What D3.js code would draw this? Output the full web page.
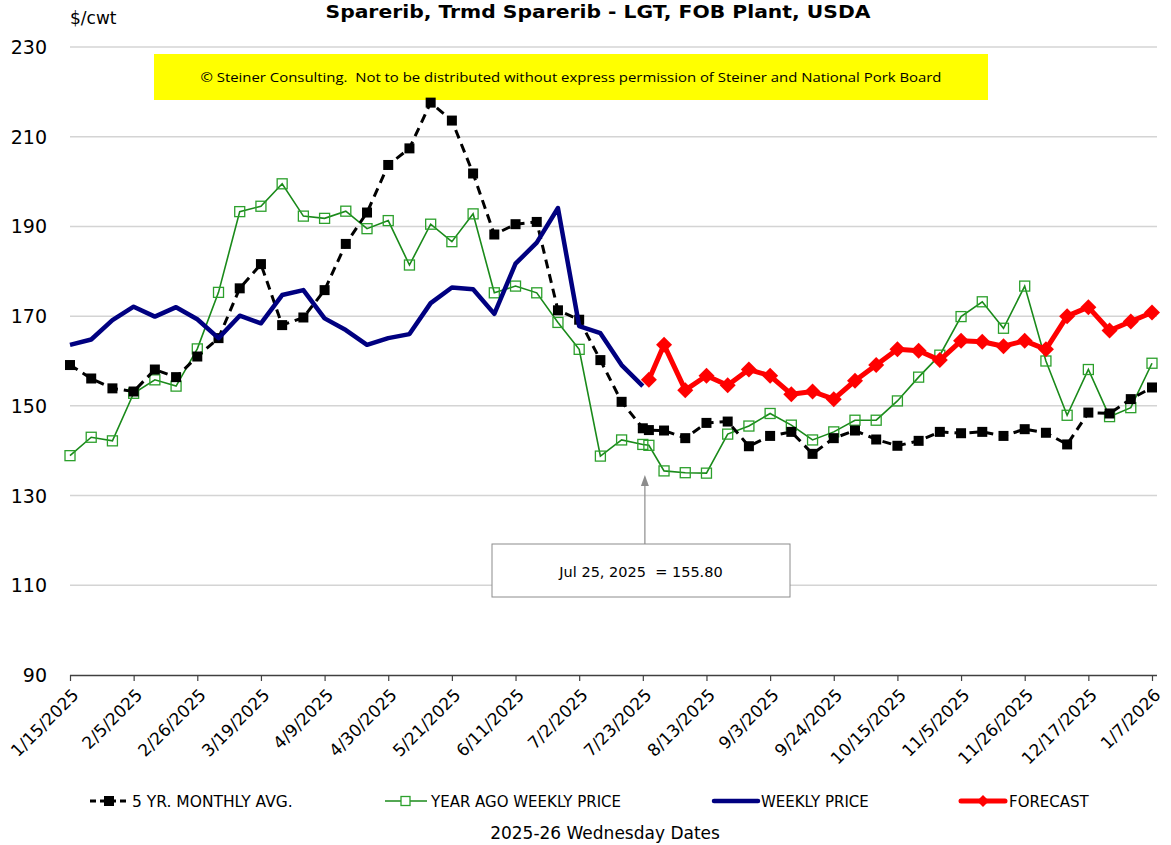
<!DOCTYPE html>
<html><head><meta charset="utf-8">
<script src="https://cdn.jsdelivr.net/npm/d3@7"></script>
<style>
html,body{margin:0;padding:0;background:#fff;}
svg{display:block;}
</style></head>
<body>
<svg id="chart" width="1171" height="845"></svg>
<script>
// ---------- DATA ----------
const dates = ["2025-01-15","2025-01-22","2025-01-29","2025-02-05","2025-02-12","2025-02-19","2025-02-26",
"2025-03-05","2025-03-12","2025-03-19","2025-03-26","2025-04-02","2025-04-09","2025-04-16","2025-04-23",
"2025-04-30","2025-05-07","2025-05-14","2025-05-21","2025-05-28","2025-06-04","2025-06-11","2025-06-18",
"2025-06-25","2025-07-02","2025-07-09","2025-07-16","2025-07-23","2025-07-25","2025-07-30","2025-08-06",
"2025-08-13","2025-08-20","2025-08-27","2025-09-03","2025-09-10","2025-09-17","2025-09-24","2025-10-01",
"2025-10-08","2025-10-15","2025-10-22","2025-10-29","2025-11-05","2025-11-12","2025-11-19","2025-11-26",
"2025-12-03","2025-12-10","2025-12-17","2025-12-24","2025-12-31","2026-01-07"];

const fiveYrAvg = [159.1,156.1,153.9,153.2,158.1,156.4,161.0,165.1,176.2,181.6,168.0,169.7,175.8,186.1,193.1,
203.7,207.4,217.6,213.6,201.8,188.2,190.5,191.0,171.3,169.2,160.2,150.9,145.0,144.6,144.5,142.8,
146.2,146.5,141.0,143.3,144.2,139.3,142.8,144.5,142.5,141.1,142.2,144.2,143.9,144.2,143.3,144.8,
144.0,141.4,148.5,148.3,151.5,154.1];

const yearAgo = [138.9,143.0,142.2,152.8,155.8,154.4,162.7,175.3,193.3,194.5,199.5,192.3,191.8,193.4,189.5,
191.3,181.4,190.5,186.6,192.8,175.2,176.7,175.2,168.6,162.6,138.8,142.4,141.4,141.2,135.5,135.1,
135.0,143.7,145.5,148.3,145.7,142.4,144.2,146.8,146.8,151.1,156.4,161.3,169.9,173.2,167.3,176.7,
160.0,147.9,158.1,147.6,149.6,159.5];

const weeklyPrice = [163.6,164.8,169.1,172.1,169.9,172.0,169.3,165.1,170.1,168.4,174.7,175.8,169.5,166.9,163.6,
165.1,166.0,172.9,176.4,176.0,170.5,181.7,186.4,194.1,167.8,166.2,159.1,154.4,null,null,null,
null,null,null,null,null,null,null,null,null,null,null,null,null,null,null,null,
null,null,null,null,null,null];

const forecast = [null,null,null,null,null,null,null,null,null,null,null,null,null,null,null,
null,null,null,null,null,null,null,null,null,null,null,null,null,155.8,163.6,153.5,
156.7,154.6,158.1,156.7,152.6,153.2,151.5,155.6,159.1,162.6,162.3,160.2,164.5,164.3,163.3,164.5,
162.6,170.0,172.0,166.8,168.8,170.8];

const xTickLabels = ["1/15/2025","2/5/2025","2/26/2025","3/19/2025","4/9/2025","4/30/2025","5/21/2025",
"6/11/2025","7/2/2025","7/23/2025","8/13/2025","9/3/2025","9/24/2025","10/15/2025","11/5/2025",
"11/26/2025","12/17/2025","1/7/2026"];
const yTicks = [90,110,130,150,170,190,210,230];

const seriesNames = ["5 YR. MONTHLY AVG.","YEAR AGO WEEKLY PRICE","WEEKLY PRICE","FORECAST"];
const titleText = "Sparerib, Trmd Sparerib - LGT, FOB Plant, USDA";
const copyrightText = "\u00A9 Steiner Consulting.  Not to be distributed without express permission of Steiner and National Pork Board";
const annotationText = "Jul 25, 2025  = 155.80";
const annotationDate = "2025-07-25";

// ---------- SETUP ----------
const svg = d3.select("#chart");
const parse = d3.utcParse("%Y-%m-%d");
const parseMDY = d3.utcParse("%m/%d/%Y");
const D = dates.map(parse);

const x = d3.scaleUtc().domain([parse("2025-01-15"), parse("2026-01-07")]).range([70, 1152]);
const y = d3.scaleLinear().domain([90, 230]).range([675, 47]);

const font = "'DejaVu Sans', Verdana, sans-serif";

// gridlines
svg.append("g").selectAll("line").data(yTicks.filter(t => t > 90)).join("line")
  .attr("x1", 70).attr("x2", 1157)
  .attr("y1", d => y(d)).attr("y2", d => y(d))
  .attr("stroke", "#d4d4d4").attr("stroke-width", 1.5);

// y axis labels
svg.append("g").selectAll("text").data(yTicks).join("text")
  .attr("x", 47).attr("y", d => y(d) + 7)
  .attr("text-anchor", "end")
  .attr("font-family", font).attr("font-size", 19).attr("fill", "#000")
  .text(d => d);

// x axis
const tickDates = xTickLabels.map(parseMDY);
const xAxis = d3.axisBottom(x).tickValues(tickDates).tickSize(6).tickFormat((d, i) => xTickLabels[i]);
const gx = svg.append("g").attr("transform", "translate(0,675)").call(xAxis);
gx.select(".domain").attr("stroke", "#404040").attr("stroke-width", 1.5).attr("d", "M70,0.5H1157");
gx.selectAll(".tick line").attr("stroke", "#404040").attr("stroke-width", 1.2);
gx.selectAll(".tick text")
  .attr("font-family", font).attr("font-size", 17).attr("fill", "#000")
  .attr("text-anchor", "end")
  .attr("transform", "translate(5,17) rotate(-45)")
  .attr("dx", 0).attr("dy", "0.35em").attr("y", 0).attr("x", 0);

// yellow copyright box
svg.append("rect").attr("x", 154).attr("y", 54).attr("width", 834).attr("height", 46).attr("fill", "#ffff00");
svg.append("text").attr("x", 571).attr("y", 82).attr("text-anchor", "middle")
  .attr("font-family", "'Open Sans', 'Noto Sans', sans-serif").attr("font-size", 13.5).attr("fill", "#000")
  .attr("textLength", 741).attr("lengthAdjust", "spacingAndGlyphs")
  .style("white-space", "pre").text(copyrightText);

// title and unit
svg.append("text").attr("x", 598).attr("y", 18).attr("text-anchor", "middle")
  .attr("font-family", font).attr("font-weight", "bold").attr("font-size", 18)
  .attr("textLength", 545).attr("lengthAdjust", "spacingAndGlyphs")
  .text(titleText);
svg.append("text").attr("x", 70).attr("y", 24)
  .attr("font-family", font).attr("font-size", 17).text("$/cwt");

// ---------- SERIES ----------
const line = arr => d3.line().defined((d, i) => arr[i] != null)
  .x((d, i) => x(D[i])).y((d, i) => y(arr[i]))(arr);

function pts(arr) { return arr.map((v, i) => ({ v, d: D[i] })).filter(p => p.v != null); }

// year ago (green)
svg.append("path").attr("d", line(yearAgo)).attr("fill", "none")
  .attr("stroke", "#1a8a1a").attr("stroke-width", 1.6);
svg.append("g").selectAll("rect").data(pts(yearAgo)).join("rect")
  .attr("x", p => x(p.d) - 5).attr("y", p => y(p.v) - 5).attr("width", 10).attr("height", 10)
  .attr("fill", "none").attr("stroke", "#2ca02c").attr("stroke-width", 1.3);

// 5 yr avg (black dashed)
svg.append("path").attr("d", line(fiveYrAvg)).attr("fill", "none")
  .attr("stroke", "#000").attr("stroke-width", 3).attr("stroke-dasharray", "9,6");
svg.append("g").selectAll("rect").data(pts(fiveYrAvg)).join("rect")
  .attr("x", p => x(p.d) - 5).attr("y", p => y(p.v) - 5).attr("width", 10).attr("height", 10)
  .attr("fill", "#000");

// weekly price (navy)
svg.append("path").attr("d", line(weeklyPrice)).attr("fill", "none")
  .attr("stroke", "#000080").attr("stroke-width", 4.5).attr("stroke-linejoin", "round");

// forecast (red)
svg.append("path").attr("d", line(forecast)).attr("fill", "none")
  .attr("stroke", "#ff0000").attr("stroke-width", 5).attr("stroke-linejoin", "round");
svg.append("g").selectAll("path").data(pts(forecast)).join("path")
  .attr("d", p => { const cx = x(p.d), cy = y(p.v), r = 8; return `M${cx},${cy - r}L${cx + r},${cy}L${cx},${cy + r}L${cx - r},${cy}Z`; })
  .attr("fill", "#ff0000");

// ---------- ANNOTATION ----------
const ax = x(parse(annotationDate)) - 4;
svg.append("line").attr("x1", ax).attr("x2", ax).attr("y1", 544).attr("y2", 482)
  .attr("stroke", "#8c8c8c").attr("stroke-width", 1.2);
svg.append("path").attr("d", `M${ax - 4},${486}L${ax},${475}L${ax + 4},${486}Z`).attr("fill", "#8c8c8c");
svg.append("rect").attr("x", 492).attr("y", 544).attr("width", 298).attr("height", 53)
  .attr("fill", "#fff").attr("stroke", "#8c8c8c").attr("stroke-width", 1);
svg.append("text").attr("x", 641).attr("y", 577).attr("text-anchor", "middle")
  .attr("font-family", font).attr("font-size", 14.5).style("white-space", "pre").text(annotationText);

// ---------- LEGEND ----------
const ly = 801;
const lg = svg.append("g").attr("font-family", font).attr("font-size", 15);
// 5yr
lg.append("line").attr("x1", 90).attr("x2", 128).attr("y1", ly).attr("y2", ly)
  .attr("stroke", "#000").attr("stroke-width", 3).attr("stroke-dasharray", "6,4");
lg.append("rect").attr("x", 104).attr("y", ly - 5).attr("width", 10).attr("height", 10).attr("fill", "#000");
lg.append("text").attr("x", 132).attr("y", ly + 6).attr("font-size", 15.5).text(seriesNames[0]);
// year ago
lg.append("line").attr("x1", 385).attr("x2", 427).attr("y1", ly).attr("y2", ly)
  .attr("stroke", "#1a8a1a").attr("stroke-width", 1.6);
lg.append("rect").attr("x", 401).attr("y", ly - 4.5).attr("width", 9).attr("height", 9)
  .attr("fill", "#fff").attr("stroke", "#2ca02c").attr("stroke-width", 1.3);
lg.append("text").attr("x", 431).attr("y", ly + 6).text(seriesNames[1]);
// weekly
lg.append("line").attr("x1", 714).attr("x2", 758).attr("y1", ly).attr("y2", ly)
  .attr("stroke", "#000080").attr("stroke-width", 4.5).attr("stroke-linecap", "round");
lg.append("text").attr("x", 761).attr("y", ly + 6).text(seriesNames[2]);
// forecast
lg.append("line").attr("x1", 961).attr("x2", 1005).attr("y1", ly).attr("y2", ly)
  .attr("stroke", "#ff0000").attr("stroke-width", 5).attr("stroke-linecap", "round");
lg.append("path").attr("d", `M983,${ly - 6}L989,${ly}L983,${ly + 6}L977,${ly}Z`).attr("fill", "#ff0000");
lg.append("text").attr("x", 1009).attr("y", ly + 6).text(seriesNames[3]);

// x axis title
svg.append("text").attr("x", 605).attr("y", 839).attr("text-anchor", "middle")
  .attr("font-family", font).attr("font-size", 17).text("2025-26 Wednesday Dates");
</script>
</body></html>
